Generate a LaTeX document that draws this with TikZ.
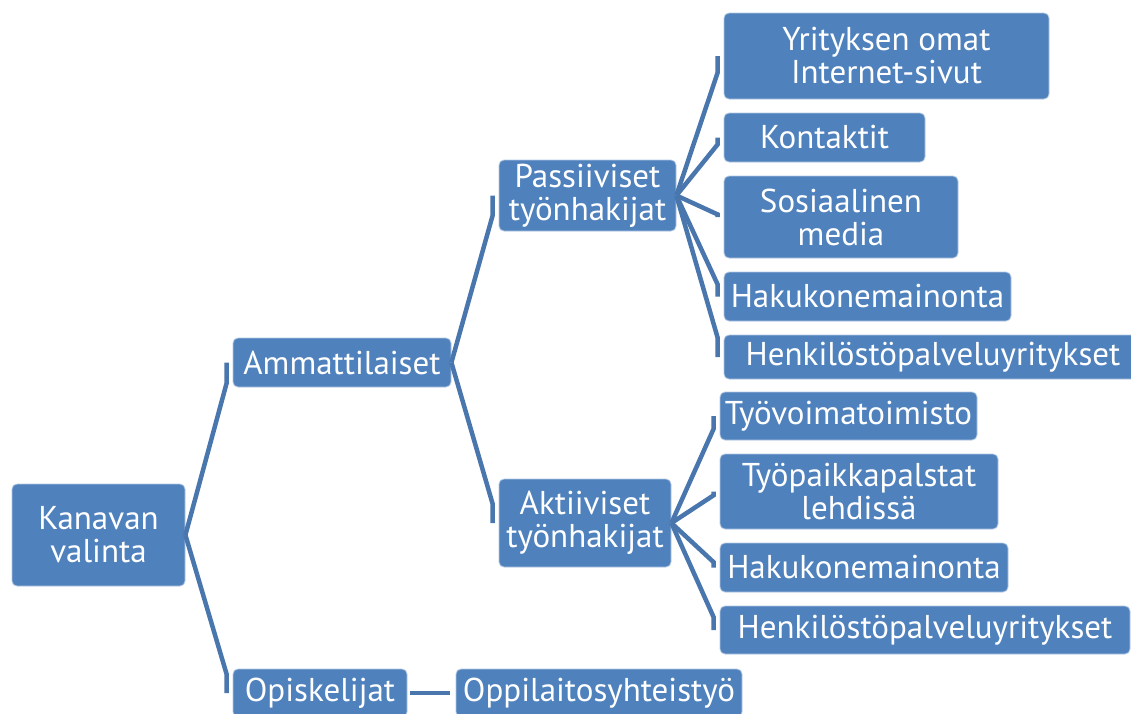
\documentclass[tikz,border=0pt]{standalone}
\usepackage{fontspec}
\setmainfont{PT Sans}
\usetikzlibrary{calc}
\definecolor{boxblue}{HTML}{4F81BD}
\definecolor{lineblue}{HTML}{4A76AE}
\begin{document}
\begin{tikzpicture}[x=1pt,y=-1pt,
  box/.style={fill=boxblue, draw=white!55!boxblue, line width=0.8pt, rounded corners=5pt,
    text=white, inner sep=0pt, align=center, font=\fontsize{33}{33}\selectfont},
  conn/.style={draw=lineblue, line width=4.5pt}]
\useasboundingbox (0,0) rectangle (1131,713);
\clip (0,0) rectangle (1131,713);
\newcommand{\linkto}[2]{%
  \draw[conn] let \p1=(#1.east), \p2=(#2.west) in
    (\p1) -- (\x2-6pt, {\y2+0.12*(\y1-\y2)}) -- (\x2-6pt,\y2);}
% level 0
\node[box, minimum width=173, minimum height=102] (kan) at (98.5,535) {Kanavan\\valinta};
% level 1
\node[box, minimum width=218, minimum height=49] (amm) at (342,362.5) {Ammattilaiset};
\node[box, minimum width=174, minimum height=48] (opi) at (320,693) {Opiskelijat};
% level 2
\node[box, minimum width=177, minimum height=71] (pas) at (587.5,195.5) {Passiiviset\\työnhakijat};
\node[box, minimum width=172, minimum height=88] (akt) at (585,523) {Aktiiviset\\työnhakijat};
\node[box, minimum width=286, minimum height=48] (opp) at (599,693) {Oppilaitosyhteistyö};
% level 3 (passive)
\node[box, minimum width=325, minimum height=86] (yri) at (886.5,56) {Yrityksen omat\\Internet-sivut};
\node[box, minimum width=201, minimum height=49] (kon) at (824.5,137.5) {Kontaktit};
\node[box, minimum width=234, minimum height=82] (sos) at (841,217) {Sosiaalinen\\media};
\node[box, minimum width=287, minimum height=49] (hakA) at (867.5,296.5) {Hakukonemainonta};
\node[box, minimum width=418, minimum height=44] (henA) at (933,357) {Henkilöstöpalveluyritykset};
% level 3 (active)
\node[box, minimum width=257, minimum height=48] (tyo) at (848.5,416) {Työvoimatoimisto};
\node[box, minimum width=278, minimum height=75] (typ) at (859,491.5) {Työpaikkapalstat\\lehdissä};
\node[box, minimum width=288, minimum height=49] (hakB) at (864,567.5) {Hakukonemainonta};
\node[box, minimum width=410, minimum height=48] (henB) at (925,630) {Henkilöstöpalveluyritykset};
% connectors
\linkto{kan}{amm}
\linkto{kan}{opi}
\linkto{amm}{pas}
\linkto{amm}{akt}
\linkto{pas}{yri}
\linkto{pas}{kon}
\linkto{pas}{sos}
\linkto{pas}{hakA}
\linkto{pas}{henA}
\linkto{akt}{tyo}
\linkto{akt}{typ}
\linkto{akt}{hakB}
\linkto{akt}{henB}
\draw[conn, shorten <=3pt, shorten >=6pt] (opi.east) -- (opp.west);
\end{tikzpicture}
\end{document}
